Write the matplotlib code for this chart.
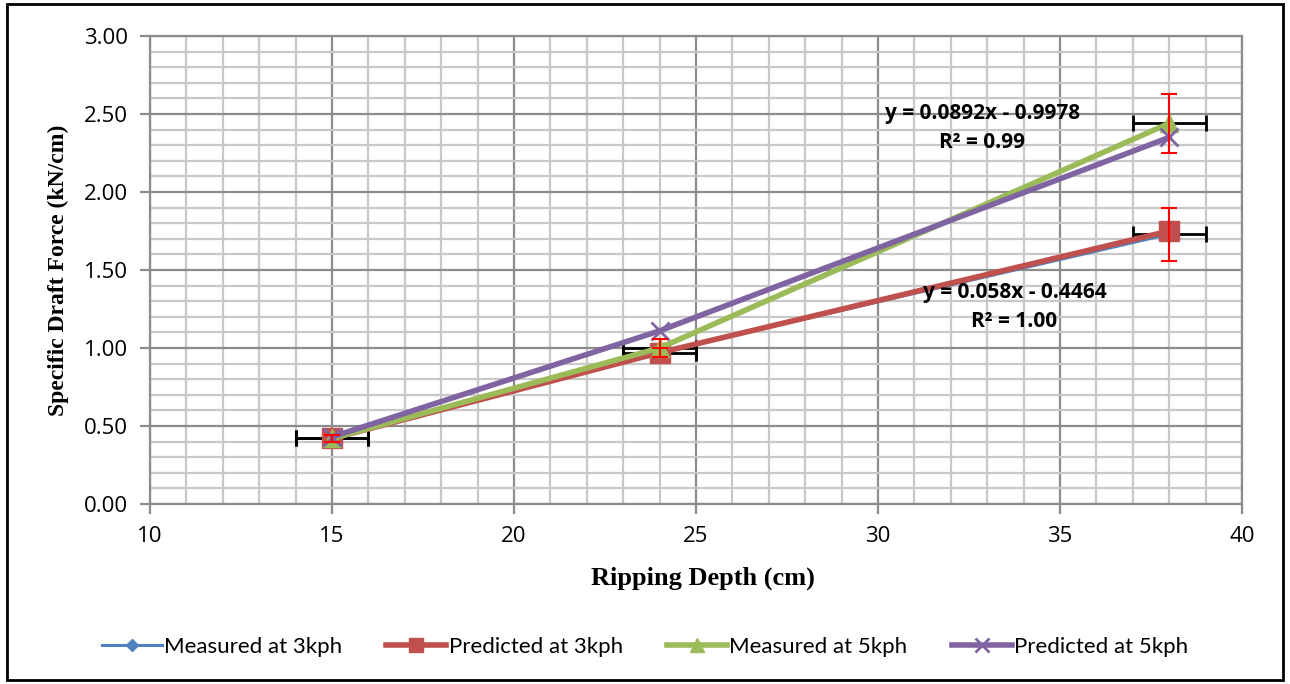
import matplotlib
matplotlib.use("Agg")
import matplotlib.pyplot as plt
from matplotlib.ticker import MultipleLocator, FormatStrFormatter
from matplotlib.patches import Rectangle

depth = [15, 24, 38]
measured_3 = [0.42, 0.97, 1.73]
predicted_3 = [0.42, 0.97, 1.75]
measured_5 = [0.42, 1.00, 2.44]
predicted_5 = [0.43, 1.11, 2.35]
x_err = [1, 1, 1]
yerr_m3 = [0.02, 0.03, 0.17]
yerr_m5 = [0.02, 0.06, 0.19]

labels = ["Measured at 3kph", "Predicted at 3kph", "Measured at 5kph", "Predicted at 5kph"]
eq5 = "y = 0.0892x - 0.9978\nR² = 0.99"
eq3 = "y = 0.058x - 0.4464\nR² = 1.00"

c_blue = "#4F81BD"
c_red = "#C0504D"
c_green = "#9BBB59"
c_purple = "#8064A2"

fig = plt.figure(figsize=(12.9, 6.84), dpi=100)
ax = fig.add_axes([150/1290, 1-504/684, (1242-150)/1290, (504-36)/684])

ax.set_xlim(10, 40)
ax.set_ylim(0, 3.0)
ax.xaxis.set_major_locator(MultipleLocator(5))
ax.xaxis.set_minor_locator(MultipleLocator(1))
ax.yaxis.set_major_locator(MultipleLocator(0.5))
ax.yaxis.set_minor_locator(MultipleLocator(0.1))
ax.grid(which="minor", color="#C8C8C8", linewidth=1.6)
ax.grid(which="major", color="#8C8C8C", linewidth=1.6)
ax.set_axisbelow(True)
for s in ax.spines.values():
    s.set_color("#8C8C8C")
    s.set_linewidth(1.6)
ax.tick_params(which="major", direction="out", length=7, width=1.6, color="#8C8C8C",
               labelsize=16, pad=9)
ax.tick_params(which="minor", length=0)
ax.yaxis.set_major_formatter(FormatStrFormatter("%.2f"))
for t in ax.get_xticklabels() + ax.get_yticklabels():
    t.set_fontfamily("Open Sans")

l1, = ax.plot(depth, measured_3, color=c_blue, lw=2.2, marker="D", ms=8, zorder=3)
l2, = ax.plot(depth, predicted_3, color=c_red, lw=4, marker="s", ms=14, zorder=4)
l3, = ax.plot(depth, measured_5, color=c_green, lw=4, marker="^", ms=13, zorder=5)
l4, = ax.plot(depth, predicted_5, color=c_purple, lw=4, marker="x", ms=13, mew=2, zorder=6)

ax.errorbar(depth, measured_3, xerr=x_err, fmt="none", ecolor="black", elinewidth=2, capsize=6, capthick=2, zorder=2)
ax.errorbar(depth, measured_3, yerr=yerr_m3, fmt="none", ecolor="red", elinewidth=1.5, capsize=6, capthick=1.5, zorder=7)
ax.errorbar(depth, measured_5, xerr=x_err, fmt="none", ecolor="black", elinewidth=2, capsize=6, capthick=2, zorder=2)
ax.errorbar(depth, measured_5, yerr=yerr_m5, fmt="none", ecolor="red", elinewidth=1.5, capsize=6, capthick=1.5, zorder=7)

ax.text(32.86, 2.41, eq5, ha="center", va="center", fontsize=15, fontweight="bold",
        fontfamily="Open Sans", linespacing=1.5, zorder=8)
ax.text(33.75, 1.26, eq3, ha="center", va="center", fontsize=15, fontweight="bold",
        fontfamily="Open Sans", linespacing=1.5, zorder=8)

ax.set_xlabel("Ripping Depth (cm)", fontsize=19, fontweight="bold", fontfamily="Liberation Serif")
ax.set_ylabel("Specific Draft Force (kN/cm)", fontsize=17, fontweight="bold", fontfamily="Liberation Serif")
ax.xaxis.label.set_va("center")
ax.yaxis.label.set_va("center")
ax.xaxis.set_label_coords((703-150)/1092, (504-578)/468)
ax.yaxis.set_label_coords((58-150)/1092, 0.5)

leg = fig.legend([l1, l2, l3, l4], labels, loc="center", bbox_to_anchor=(0.5, 1-647/684),
                 ncol=4, frameon=False, handlelength=2.7, columnspacing=2.0, handletextpad=0.1,
                 prop={"family": "Lato", "size": 16}, markerscale=0.75)

fig.patches.append(Rectangle((7/1290, 4/684), 1276/1290, 676/684, transform=fig.transFigure,
                             fill=False, edgecolor="black", linewidth=2))

fig.savefig("out.png", dpi=100)
